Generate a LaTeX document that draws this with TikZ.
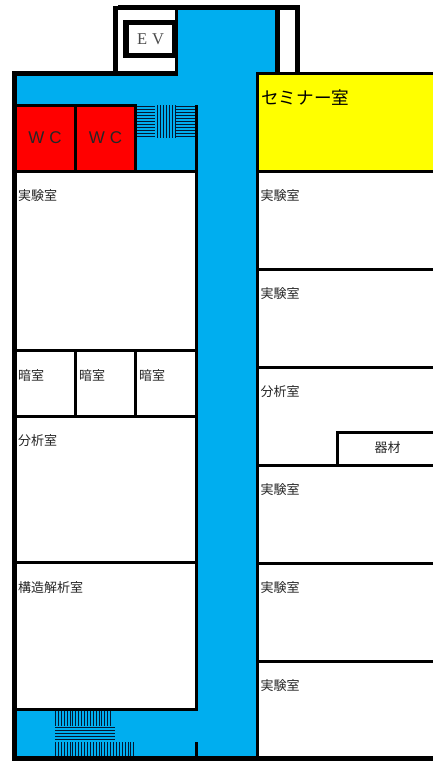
\documentclass[tikz,border=0pt]{standalone}
\usepackage{fontspec}
\setmainfont{Liberation Serif}
\newfontfamily\cjk{Noto Sans CJK JP}
\newfontfamily\wcfont{Liberation Sans}
\definecolor{corridor}{RGB}{0,174,239}
\definecolor{stairblue}{RGB}{4,24,50}
\definecolor{wcred}{RGB}{255,0,0}
\definecolor{semyellow}{RGB}{255,255,0}
\tikzset{
 x=1pt,y=-1pt,
 wall/.style={fill=black,draw=none},
 roomlabel/.style={anchor=west,inner sep=0pt,font=\cjk\fontsize{13}{13}\selectfont,text=black!85},
 wclabel/.style={inner sep=0pt,font=\wcfont\fontsize{17}{17}\selectfont,text=black!85},
 stair/.style={draw=stairblue,line width=1pt},
}
\begin{document}
\begin{tikzpicture}
\useasboundingbox (0,0) rectangle (433,761);
\fill[white] (0,0) rectangle (433,761);
% blue floor
\fill[corridor] (178,10) rectangle (275,76);
\fill[corridor] (17,76) rectangle (256,105);
\fill[corridor] (198,73) rectangle (256,756);
\fill[corridor] (137,105) rectangle (198,170);
\fill[corridor] (17,711) rectangle (256,756);
\fill[semyellow] (259,75) rectangle (433,170);
\fill[wcred] (17,107) rectangle (74,170);
\fill[wcred] (77,107) rectangle (134,170);
% outer walls
\fill[wall] (12,71) rectangle (178,76);
\fill[wall] (12,71) rectangle (17,761);
\fill[wall] (12,756) rectangle (433,761);
\fill[wall] (113,6) rectangle (118,73);
\fill[wall] (118,5) rectangle (300,10);
\fill[wall] (175,10) rectangle (178,76);
\fill[wall] (275,5) rectangle (280,75);
\fill[wall] (295,5) rectangle (300,73);
\fill[wall] (256,72) rectangle (433,75);
\fill[wall] (256,72) rectangle (259,761);
\fill[wall] (195,105) rectangle (198,711);
\fill[wall] (195,742) rectangle (198,761);
% EV
\fill[wall] (123,20) rectangle (175,58);
\fill[white] (129,25) rectangle (172,53);
% left rooms
\fill[wall] (17,104) rectangle (137,107);
\fill[wall] (74,104) rectangle (77,173);
\fill[wall] (134,104) rectangle (137,173);
\fill[wall] (17,170) rectangle (198,173);
\fill[wall] (17,349) rectangle (198,352);
\fill[wall] (17,415) rectangle (198,418);
\fill[wall] (74,349) rectangle (77,418);
\fill[wall] (134,349) rectangle (137,418);
\fill[wall] (17,561) rectangle (198,564);
\fill[wall] (17,708) rectangle (198,711);
% right rooms
\fill[wall] (256,170) rectangle (433,173);
\fill[wall] (256,268) rectangle (433,271);
\fill[wall] (256,366) rectangle (433,369);
\fill[wall] (256,464) rectangle (433,467);
\fill[wall] (256,562) rectangle (433,565);
\fill[wall] (256,660) rectangle (433,663);
\fill[wall] (336,431) rectangle (433,434);
\fill[wall] (336,431) rectangle (339,467);
% upper stairs
\foreach \y in {106.5,109.5,...,137} {
 \draw[stair] (137,\y) -- (155,\y);
 \draw[stair] (176,\y) -- (195,\y);
}
\foreach \x in {157.5,160.5,...,175.5} \draw[stair] (\x,105) -- (\x,138);
% lower stairs
\foreach \x in {55.5,58.4,...,113} \draw[stair] (\x,711) -- (\x,726);
\foreach \y in {727.5,730.5,...,740} \draw[stair] (55,\y) -- (115,\y);
\foreach \x in {55.5,58.4,...,134} \draw[stair] (\x,742) -- (\x,756);
% labels
\node[inner sep=0pt,font=\fontsize{16.5}{16.5}\selectfont,text=black!70] (ev) at (150.5,39.5) {E\hspace{5pt}V};
\node[wclabel] (wc1) at (45,138) {W\hspace{5pt}C};
\node[wclabel] (wc2) at (105.5,138) {W\hspace{5pt}C};
\node[anchor=west,inner sep=0pt,font=\cjk\fontsize{17.6}{17.6}\selectfont] (sem) at (261,98) {セミナー室};
\node[roomlabel] (r1) at (18,196) {実験室};
\node[roomlabel] (d1) at (18,376) {暗室};
\node[roomlabel] (d2) at (79,376) {暗室};
\node[roomlabel] (d3) at (139,376) {暗室};
\node[roomlabel] (a1) at (18,441) {分析室};
\node[roomlabel] (k1) at (18,588) {構造解析室};
\node[roomlabel] (r2) at (260.5,196) {実験室};
\node[roomlabel] (r3) at (260.5,294) {実験室};
\node[roomlabel] (a2) at (260.5,392) {分析室};
\node[roomlabel,anchor=center] (eq) at (387.5,448) {器材};
\node[roomlabel] (r4) at (260.5,490) {実験室};
\node[roomlabel] (r5) at (260.5,588) {実験室};
\node[roomlabel] (r6) at (260.5,686) {実験室};
\end{tikzpicture}
\end{document}
